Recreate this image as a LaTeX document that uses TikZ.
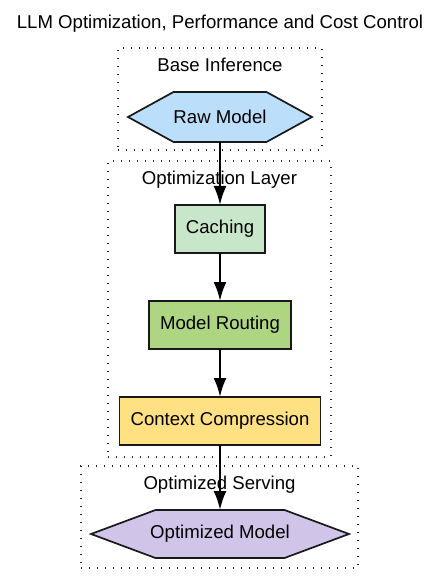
\documentclass[tikz,border=0pt]{standalone}
\usepackage{fontspec}
\setmainfont{Liberation Sans}
\usetikzlibrary{arrows.meta,positioning,backgrounds,calc}
\definecolor{rawblue}{HTML}{BBDEFB}
\definecolor{cachegreen}{HTML}{C8E6C9}
\definecolor{routegreen}{HTML}{AED581}
\definecolor{compyellow}{HTML}{FFE082}
\definecolor{servlilac}{HTML}{D1C4E9}
\newcommand{\diafont}{\fontsize{18.6}{22}\selectfont}
\tikzset{
  clusterbox/.style={
    draw=black!85, line width=1.3pt, dash pattern=on 1.3pt off 6.7pt,
    inner sep=0pt
  },
  clulabel/.style={font=\diafont, anchor=base, inner sep=0pt},
  stagebox/.style={
    draw=black!90, fill=#1, line width=1.7pt, outer sep=0pt,
    minimum height=48pt, inner xsep=11pt, font=\diafont
  },
  hexslot/.style={
    minimum width=#1, minimum height=50pt, inner sep=0pt, outer sep=0pt,
    font=\diafont
  },
  hexline/.style={draw=black!90, line width=1.7pt, line join=miter},
  flowarr/.style={-{Latex[length=19pt,width=13pt]}, draw=black, line width=2.4pt}
}

\begin{document}
\begin{tikzpicture}[x=1pt, y=-1pt]
  \useasboundingbox (0,0) rectangle (440,585);

  \node[font=\diafont, anchor=base, inner sep=0pt] (title) at (220,28.7)
    {LLM Optimization, Performance and Cost Control};

  % clusters
  \node[clusterbox, minimum width=204pt, minimum height=102pt] (baseclu) at (220,99) {};
  \node[clusterbox, minimum width=223pt, minimum height=296pt] (optclu)  at (219.5,309) {};
  \node[clusterbox, minimum width=277pt, minimum height=102pt] (servclu) at (219.5,517) {};
  \node[clulabel] at ([yshift=-24pt]baseclu.north) {Base Inference};
  \node[clulabel] at ([yshift=-24pt]optclu.north)  {Optimization Layer};
  \node[clulabel] at ([yshift=-24pt]servclu.north) {Optimized Serving};

  % nodes
  \node[hexslot=184pt] (raw) at (220,117) {Raw Model};
  \node[stagebox=cachegreen, below=63pt of raw] (caching) {Caching};
  \node[stagebox=routegreen, below=48pt of caching] (routing) {Model Routing};
  \node[stagebox=compyellow, below=48pt of routing] (compress) {Context Compression};
  \node[hexslot=258pt, minimum height=48pt, below=65pt of compress] (optmodel) {Optimized Model};

  \begin{scope}[on background layer]
    \draw[hexline, fill=rawblue] (raw.west) -- ([xshift=45.5pt]raw.north west)
      -- ([xshift=-45.5pt]raw.north east) -- (raw.east)
      -- ([xshift=-45.5pt]raw.south east) -- ([xshift=45.5pt]raw.south west) -- cycle;
    \draw[hexline, fill=servlilac] (optmodel.west) -- ([xshift=64.5pt]optmodel.north west)
      -- ([xshift=-64.5pt]optmodel.north east) -- (optmodel.east)
      -- ([xshift=-64.5pt]optmodel.south east) -- ([xshift=64.5pt]optmodel.south west) -- cycle;
  \end{scope}

  % connectors
  \draw[flowarr] (raw) -- (caching);
  \draw[flowarr] (caching) -- (routing);
  \draw[flowarr] (routing) -- (compress);
  \draw[flowarr] (compress) -- (optmodel);
\end{tikzpicture}
\end{document}
